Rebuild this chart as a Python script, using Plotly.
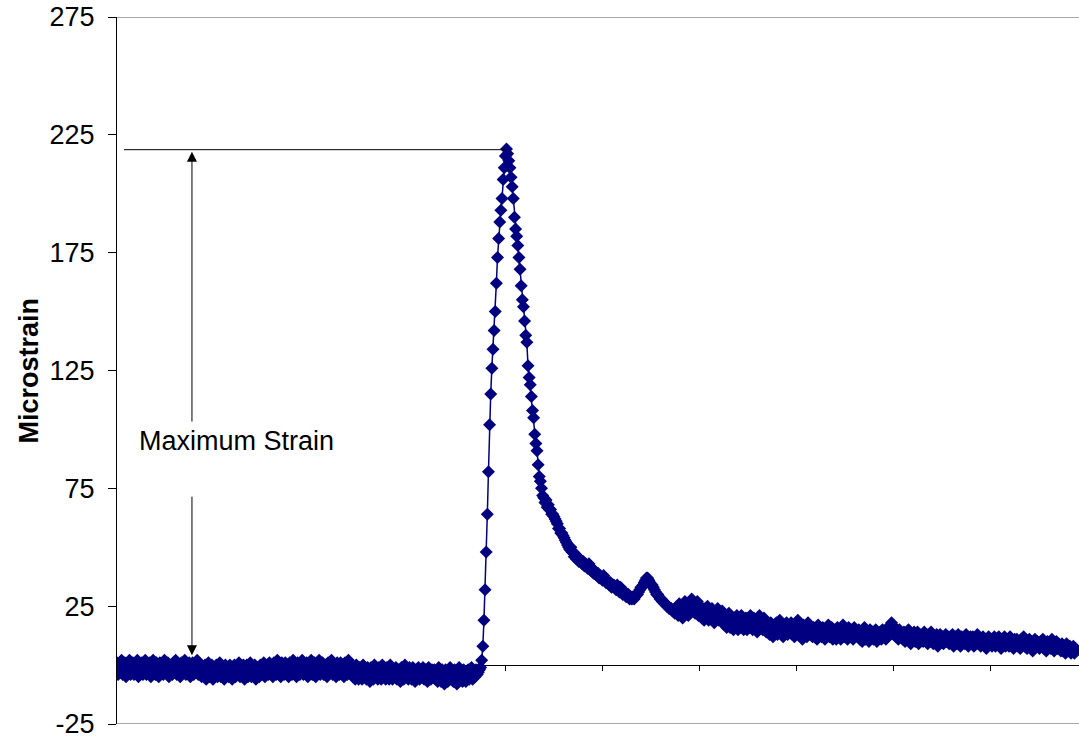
import numpy as np
import plotly.graph_objects as go

# ---------------- data ----------------
SAMPLES_PER_DIV = 86          # samples between two x-axis tick marks
X_TICKS = [1, 2, 3, 4, 5, 6, 7, 8, 9]
Y_TICKS = [-25, 25, 75, 125, 175, 225, 275]

baseline_a = [1, -4, 0, -3, 2, -4, -1, 1, -5, 0, -3, 2, -4, -1, 1, -4, 0, -3, 2, -5,
              0, -3, 1, -4, -1, 2, -4, 0, -3, 1, -5, -1, 2, -3, -4, 1, -2, -5, 1, -3,
              0, -4, 2, -3, -1, 1, -5, 0, -2, -4, 1, -3, 2, -4, -1, 0, -5, 1, -3, -1,
              2, -4, 0, -3, 1, -5, -1, 1, -4, 0, -3, 2, -4, -1]
baseline_b = [0, -5, -1, -4, 0, -6, -2, 1, -5, -3, 0, -6, -1, -4, 0, -5, -2, 1, -5, -3,
              -1, -6, 0, -4, -1, -5, 0, -3, -6, -1, 0, -5, -2, -4, 1, -5, -1, -4, 0, -6,
              -2, 0, -5, -3, 1, -5, -1, -4, 0, -6, -2, -1, -5, 0, -4, -2, 1, -5, -3, 0]
baseline_c = [-4, 1, -3, 0, -5, 1, -2, -4, 2, -3, -1, -5, 1, -2, -4, 1, -3, 0, -5, 1,
              -2, -4, 2, -3, -1, -5, 1, -2, -4, 0, 2, -4, -1, -3, 1, -5, 0, -3, 2, -4,
              -1, 1, -5, 0, -3, 2, -4, -1, 1, -4, -2, 0, -5, 1, -3, -1, 2, -4, 0, -3,
              -5, 1, -2, -4, 1, -3, 0, -5, 1, -2, -4, 2, -3, -1]
baseline_d = [-1, -5, -2, -6, 0, -4, -6, -1, -3, -6, 0, -5, -2, -6, -1, -4, -7, -1, -3, -6,
              0, -5, -3, -6, -1, -4, -6, 0, -5, -2, -6, -1, -4, -6, 0, -3, -6, -2, -5, -1,
              -6, -2, -4, -7, -1, -3, -6, 0, -5, -2, -6, -1, -4, -6, -1, -3, -7, -2, -5, -1,
              -6, -3, -5, -1, -6, -2, -4, -7, -1, -3, -6, -2, -4]
baseline_e = [-2, -6, -3, -7, -1, -5, -7, -2, -4, -8, -2, -5, -7, -3, -1, -6, -4, -7, -2, -5,
              -8, -3, -1, -6, -3, -7, -2, -5, -7, -3, -2, -6, -4, -1, -6, -3, -5, -2, -4, -3]
rise = [-2, -1, 2, 8, 19, 32, 48, 64, 82, 102, 115, 126, 134, 142, 150, 162, 173, 181,
        188, 193, 198, 206, 211, 216, 219]
fall = [217, 214, 211, 207, 203, 198, 190, 185, 182, 178, 173, 168, 161, 155, 152, 146,
        140, 137, 127, 122, 119, 114, 108, 105, 98, 94, 91, 85, 80, 78, 75, 72]
decay = [71, 69, 70, 67, 68, 66, 66, 64, 64, 63, 62, 61, 60, 58, 58, 56, 56, 55, 54, 53,
         52, 51, 50, 49, 50, 48, 48, 46, 47, 45, 46, 44, 45, 44, 43, 44, 42, 43, 42, 41,
         43, 41, 40, 41, 39, 40, 39, 38, 39, 37, 38, 37, 36, 38, 36, 35, 36, 35, 34, 35,
         33, 34, 34, 33, 32, 34, 32, 31, 33, 32, 30, 31, 31, 29, 30, 30, 28, 29, 28, 29]
bump = [28, 29, 30, 30, 31, 32, 33, 33, 34, 35, 36, 37, 37, 36, 35, 34, 34, 33, 32, 31,
        30, 30, 29, 28, 28, 27, 27, 26, 26, 25, 25, 24, 24, 24, 23, 23, 22, 23, 22]
tail = [21, 26, 22, 25, 20, 24, 27, 22, 25, 21, 26, 24, 28, 23, 26, 22, 25, 27, 21, 24,
        25, 20, 23, 19, 24, 22, 25, 19, 23, 20, 24, 21, 18, 23, 20, 24, 19, 22, 20, 23,
        20, 17, 21, 16, 19, 22, 16, 20, 17, 15, 20, 17, 21, 15, 19, 16, 21, 18, 15, 19,
        20, 15, 19, 16, 21, 17, 15, 20, 16, 19, 14, 18, 21, 16, 18, 15, 20, 17, 14, 18,
        17, 13, 18, 15, 12, 17, 14, 18, 13, 16, 19, 14, 16, 12, 17, 15, 18, 13, 16, 14,
        18, 13, 16, 12, 17, 15, 19, 13, 16, 14, 11, 17, 14, 16, 12, 18, 14, 13, 16, 12,
        16, 12, 15, 11, 17, 13, 15, 12, 16, 14, 11, 15, 13, 17, 12, 14, 16, 11, 15, 13,
        11, 16, 13, 15, 11, 14, 17, 12, 15, 13, 11, 16, 14, 12, 15, 11, 16, 13, 14, 12,
        15, 11, 14, 10, 13, 16, 11, 14, 12, 10, 15, 12, 14, 11, 13, 15, 10, 13, 12, 14,
        11, 15, 12, 14, 11, 14, 16, 15, 17, 18, 15, 13, 16, 12, 14, 11, 15, 12, 13, 11,
        14, 10, 13, 11, 15, 12, 9, 13, 11, 14, 10, 12, 14, 9, 13, 11, 12, 10, 14, 11,
        13, 9, 12, 10, 14, 11, 9, 12, 10, 13, 8, 11, 13, 10, 12, 9, 11, 13, 10, 12,
        9, 12, 10, 13, 8, 11, 12, 9, 13, 10, 8, 12, 10, 11, 9, 13, 10, 8, 11, 12,
        9, 12, 8, 11, 10, 13, 9, 11, 8, 10, 12, 9, 11, 7, 10, 12, 9, 11, 8, 10,
        12, 8, 11, 9, 12, 10, 7, 11, 9, 12, 8, 10, 11, 8, 12, 9, 10, 7, 11, 9,
        11, 8, 10, 7, 11, 9, 12, 8, 10, 7, 9, 11, 8, 10, 6, 9, 11, 8, 10, 9,
        7, 10, 8, 11, 7, 9, 6, 10, 8, 9, 7, 11, 8, 6, 9, 10, 7, 9, 8, 6,
        9, 6, 8, 5, 9, 7, 6, 8, 5, 7, 8, 5, 7]

strain = (baseline_a + baseline_b + baseline_c + baseline_d + baseline_e
          + rise + fall + decay + bump + tail)
time = np.arange(len(strain)) / SAMPLES_PER_DIV

# annotation geometry (axis units)
ARROW_X = 0.772
ARROW_TOP = (217.8, 102.7)
ARROW_BOTTOM = (4.2, 72.1)
LABEL_POS = (1.228, 95.0)
MAX_LINE_X0 = 0.072

# ---------------- figure ----------------
NAVY = "#000080"
FONT = "Arial, 'Liberation Sans', sans-serif"

peak_i = int(np.argmax(strain))
peak_val = strain[peak_i]

fig = go.Figure()
fig.add_trace(go.Scatter(
    x=time, y=strain, mode="lines+markers",
    line=dict(color=NAVY, width=1.5),
    marker=dict(symbol="diamond", size=10, color=NAVY, line=dict(width=0)),
    hoverinfo="skip", showlegend=False,
))

shapes = [
    dict(type="line", xref="paper", yref="y", x0=0, x1=1, y0=275, y1=275,
         line=dict(color="#8a8a8a", width=1.5), layer="below"),
    dict(type="line", xref="paper", yref="y", x0=0, x1=1, y0=-25, y1=-25,
         line=dict(color="#8a8a8a", width=1.5), layer="below"),
    dict(type="line", xref="x", yref="y", x0=MAX_LINE_X0, x1=time[peak_i],
         y0=peak_val - 0.3, y1=peak_val - 0.3, line=dict(color="black", width=1)),
]

annotations = [
    dict(x=ARROW_X, y=ARROW_TOP[0], ax=ARROW_X, ay=ARROW_TOP[1], xref="x", yref="y",
         axref="x", ayref="y", text="", showarrow=True, arrowhead=2, arrowsize=2,
         arrowwidth=1, arrowcolor="black", standoff=0, startstandoff=0),
    dict(x=ARROW_X, y=ARROW_BOTTOM[0], ax=ARROW_X, ay=ARROW_BOTTOM[1], xref="x", yref="y",
         axref="x", ayref="y", text="", showarrow=True, arrowhead=2, arrowsize=2,
         arrowwidth=1, arrowcolor="black", standoff=0, startstandoff=0),
    dict(x=LABEL_POS[0], y=LABEL_POS[1], xref="x", yref="y", text="Maximum Strain",
         showarrow=False, font=dict(family=FONT, size=27, color="black"),
         xanchor="center", yanchor="middle"),
    dict(x=0, y=0.5, xref="paper", yref="paper", text="<b>Microstrain</b>",
         textangle=-90, showarrow=False, xanchor="center", yanchor="middle",
         xshift=-89, font=dict(family=FONT, size=27, color="black")),
]

fig.update_layout(
    width=1079, height=738,
    margin=dict(l=117, r=0, t=17, b=14, pad=0),
    paper_bgcolor="white", plot_bgcolor="white",
    font=dict(family=FONT, size=27, color="black"),
    shapes=shapes, annotations=annotations,
    xaxis=dict(range=[0, 962 / 97.1], anchor="free", position=25 / 300,
               showline=True, linecolor="black", linewidth=1,
               ticks="outside", ticklen=5, tickwidth=1, tickcolor="black",
               tickmode="array", tickvals=X_TICKS, showticklabels=False,
               showgrid=False, zeroline=False, layer="below traces"),
    yaxis=dict(range=[-25, 275], tickmode="array", tickvals=Y_TICKS,
               ticktext=[str(v) for v in Y_TICKS],
               showline=True, linecolor="black", linewidth=1,
               ticks="outside", ticklen=8, tickwidth=1, tickcolor="black",
               ticklabelstandoff=8, ticklabeloverflow="allow",
               tickfont=dict(family=FONT, size=27, color="black"),
               showgrid=False, zeroline=False, layer="below traces"),
)

fig.write_html("out.html")
